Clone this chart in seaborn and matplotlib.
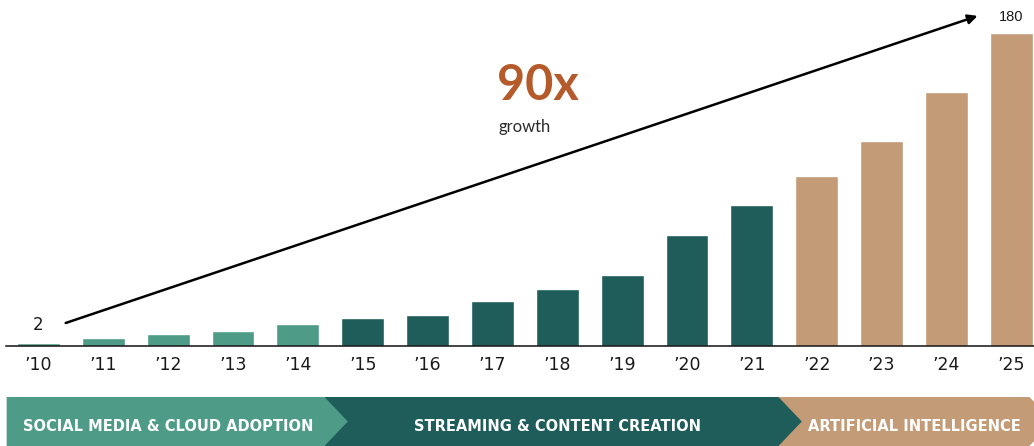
import matplotlib
matplotlib.use("Agg")
import matplotlib.pyplot as plt
from matplotlib.patches import Polygon
import numpy as np
import pandas as pd
import seaborn as sns

# Yearly index, 2010 = 2
years = ["’10", "’11", "’12", "’13", "’14", "’15", "’16", "’17",
         "’18", "’19", "’20", "’21", "’22", "’23", "’24", "’25"]
values = [2, 5, 7, 9, 13, 16, 18, 26, 33, 41, 64, 81, 98, 118, 146, 180]
era_names = ["SOCIAL MEDIA & CLOUD ADOPTION",
             "STREAMING & CONTENT CREATION",
             "ARTIFICIAL INTELLIGENCE"]
era_lengths = [5, 7, 4]
era_colors = ["#4E9B87", "#1E5D59", "#C39B76"]
growth_label = "90x"
growth_caption = "growth"

eras = [name for name, n in zip(era_names, era_lengths) for _ in range(n)]
df = pd.DataFrame({"year": years, "value": values, "era": eras})

sns.set_theme(style="white")
plt.rcParams["font.family"] = ["DejaVu Sans"]

W, H = 1034, 446
fig = plt.figure(figsize=(W / 100, H / 100), dpi=100)

# main bar axes
ax = fig.add_axes([6 / W, 99.7 / H, 1028 / W, 344.3 / H])
sns.barplot(data=df, x="year", y="value", hue="era", palette=era_colors,
            hue_order=era_names, dodge=False, width=0.66, saturation=1,
            legend=False, ax=ax)
ax.set_xlim(-0.5, 15.35)
ax.set_ylim(0, 198)
ax.set_xlabel("")
ax.set_ylabel("")
ax.set_yticks([])
for side in ["left", "right", "top"]:
    ax.spines[side].set_visible(False)
ax.spines["bottom"].set_color("#111111")
ax.spines["bottom"].set_linewidth(1.1)
ax.tick_params(axis="x", length=0, pad=7, labelsize=12.5, colors="#1a1a1a")

# end-point value labels
ax.text(0, values[0] + 10, str(values[0]), ha="center", va="center",
        fontsize=12, color="#1a1a1a")
ax.text(len(values) - 1, values[-1] + 9.5, str(values[-1]), ha="center",
        va="center", fontsize=10.5, color="#1a1a1a", family="Liberation Sans")

# growth arrow
ax.annotate("", xy=(14.48, values[-1] + 10), xytext=(0.42, values[0] + 11.4),
            arrowprops=dict(arrowstyle="-|>", color="black", lw=1.8,
                            mutation_scale=14, shrinkA=0, shrinkB=0),
            annotation_clip=False)

fig.text(538 / W, 1 - 85 / H, growth_label, ha="center", va="center",
         fontsize=35, fontweight="bold", color="#B55A2B", family="Lato")
fig.text(525 / W, 1 - 127 / H, growth_caption, ha="center", va="center",
         fontsize=12, color="#2a2a2a", family="Lato")

# era banner along the bottom, in the same category units as the bars
bax = fig.add_axes([6 / W, 0, 1028 / W, 49 / H], sharex=ax)
bax.set_ylim(0, 1)
bax.axis("off")
notch = 0.09
depth = 0.36
starts = np.cumsum([0] + era_lengths[:-1])
for i, (name, n, color) in enumerate(zip(era_names, era_lengths, era_colors)):
    s = starts[i]
    left = -0.49 if i == 0 else s - 0.5 - notch
    right = s + n - 0.5 - notch
    if i == len(era_names) - 1:
        right = 15.28
    poly = Polygon([(left, 0), (left, 1), (right, 1), (right + depth, 0.5),
                    (right, 0)], closed=True, facecolor=color,
                   edgecolor="none", zorder=10 - i)
    bax.add_patch(poly)
    bax.text(s + (n - 1) / 2, 0.4, name, ha="center", va="center",
             fontsize=10.5, fontweight="bold", color="white", zorder=20)

fig.savefig("out.png", dpi=100)
